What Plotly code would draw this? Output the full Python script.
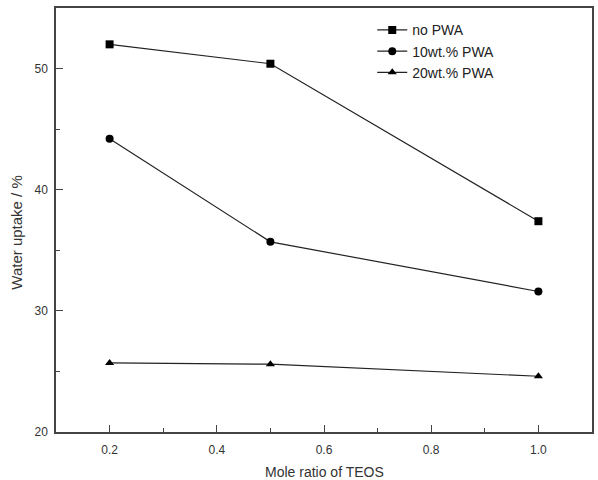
import plotly.graph_objects as go

x_vals = [0.2, 0.5, 1.0]
no_pwa = [52.0, 50.4, 37.4]
pwa10 = [44.2, 35.7, 31.6]
pwa20 = [25.7, 25.6, 24.6]
series_names = ["no PWA", "10wt.% PWA", "20wt.% PWA"]
x_ticks = [0.2, 0.4, 0.6, 0.8, 1.0]
x_tick_text = ["0.2", "0.4", "0.6", "0.8", "1.0"]
y_ticks = [20, 30, 40, 50]

fig = go.Figure()
for name, vals, sym in zip(series_names, [no_pwa, pwa10, pwa20],
                           ["square", "circle", "triangle-up"]):
    fig.add_trace(go.Scatter(
        x=x_vals, y=vals, name=name, mode="lines+markers",
        line=dict(color="#222222", width=1.2),
        marker=dict(symbol=sym, size=8, color="#000000"),
    ))

axis_common = dict(
    showgrid=False, zeroline=False, showline=True, mirror=True,
    linecolor="#444444", linewidth=1.5,
    ticks="inside", ticklen=7, tickwidth=1, tickcolor="#444444",
    tickfont=dict(family="Liberation Sans, Arial", size=12, color="#333333"),
)

fig.update_layout(
    width=598, height=480,
    margin=dict(l=56, r=4, t=8, b=48),
    paper_bgcolor="white", plot_bgcolor="white",
    showlegend=True,
    legend=dict(
        x=0.59, y=0.985, xanchor="left", yanchor="top",
        bgcolor="rgba(0,0,0,0)",
        font=dict(family="Liberation Sans, Arial", size=14, color="#222222"),
        tracegroupgap=0,
    ),
    xaxis=dict(
        range=[0.1, 1.1], tickvals=x_ticks, ticktext=x_tick_text,
        ticklabelstandoff=6,
        minor=dict(ticks="inside", ticklen=4, tickcolor="#444444", dtick=0.1),
        **axis_common,
    ),
    yaxis=dict(
        range=[20, 55], tickvals=y_ticks,
        ticklabelstandoff=4,
        minor=dict(ticks="inside", ticklen=4, tickcolor="#444444", dtick=5),
        **axis_common,
    ),
    annotations=[
        dict(text="Mole ratio of TEOS", xref="paper", yref="paper",
             x=0.5, y=0, yshift=-40, xanchor="center", yanchor="middle",
             showarrow=False,
             font=dict(family="Liberation Sans, Arial", size=14, color="#333333")),
        dict(text="Water uptake / %", xref="paper", yref="paper",
             x=0, xshift=-39, y=0.47, xanchor="center", yanchor="middle",
             textangle=-90, showarrow=False,
             font=dict(family="Liberation Sans, Arial", size=15, color="#333333")),
    ],
)

fig.write_html("out.html")
